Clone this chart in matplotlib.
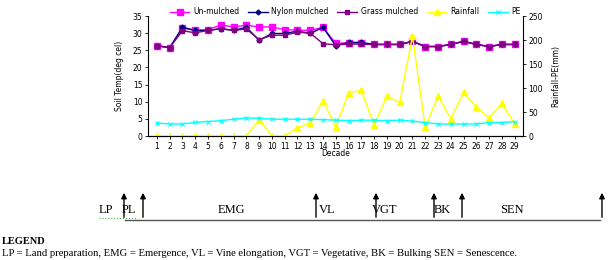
import matplotlib
matplotlib.use('Agg')
import matplotlib.pyplot as plt

# decades 1..29
decade = list(range(1, 30))

unmulched = [26.3, 25.8, 31.5, 30.8, 31.0, 32.4, 31.8, 32.3, 31.8, 31.8, 31.0, 30.9, 30.8, 31.7, 27.0,
             27.2, 27.1, 26.7, 26.7, 26.7, 27.6, 26.1, 26.1, 26.7, 27.6, 26.7, 26.1, 26.7, 26.7]
nylon = [26.3, 25.8, 31.7, 30.8, 30.8, 31.3, 30.8, 31.7, 27.9, 29.9, 29.9, 30.6, 29.9, 31.7, 26.3,
         27.3, 27.3, 26.7, 26.7, 26.7, 27.6, 26.1, 26.1, 26.7, 27.6, 26.7, 26.1, 26.7, 26.7]
grass = [26.3, 25.8, 30.7, 30.1, 30.8, 31.3, 30.8, 31.2, 28.1, 29.4, 29.4, 30.3, 30.0, 26.9, 26.6,
         26.8, 26.8, 26.7, 26.7, 26.7, 27.6, 26.1, 26.1, 26.7, 27.6, 26.7, 26.1, 26.7, 26.7]
rainfall = [0, 0, 0, 0, 0, 0, 0, 0, 34, 0, 0, 17, 27, 73, 18,
            90, 95, 23, 83, 70, 208, 18, 83, 36, 91, 60, 38, 68, 25]
pe = [27, 25, 25, 28.5, 30, 32, 35, 37.5, 37, 35, 35, 35, 35, 34, 33,
      32, 33, 33, 32, 33, 31, 28, 25, 25, 25, 25, 28, 28, 30]

# crop stages (pixel x of arrows on the time line below the chart)
stage_arrows = [124, 143, 316, 376, 434, 462, 602]
stage_labels = ["LP", "PL", "EMG", "VL", "VGT", "BK", "SEN"]
stage_label_x = [99, 122, 218, 319, 372, 434, 500]

fig = plt.figure(figsize=(6.11, 2.6), dpi=100)
ax = fig.add_axes([148/611, 1-136/260, (523-148)/611, 120/260])
ax2 = ax.twinx()

size = 5.5
l1, = ax.plot(decade, unmulched, color='#FF00FF', marker='s', markersize=4, linewidth=1, label='Un-mulched')
l2, = ax.plot(decade, nylon, color='#000080', marker='D', markersize=2.5, linewidth=1, label='Nylon mulched')
l3, = ax.plot(decade, grass, color='#800080', marker='s', markersize=2.5, linewidth=1, label='Grass mulched')
l4, = ax2.plot(decade, rainfall, color='#FFFF00', marker='^', markersize=4, linewidth=1, label='Rainfall')
l5, = ax2.plot(decade, pe, color='#00FFFF', marker='x', markersize=3, markeredgewidth=0.8, linewidth=1, label='PE')

ax.set_xlim(0.3, 29.65)
ax.set_ylim(0, 35)
ax2.set_ylim(0, 250)
ax.set_xticks(decade)
ax.set_yticks(range(0, 36, 5))
ax2.set_yticks(range(0, 251, 50))
for a in (ax, ax2):
    a.spines['top'].set_visible(False)
    a.tick_params(labelsize=size, length=2, width=0.6, pad=2)
ax.spines['right'].set_visible(False)
ax2.spines['left'].set_visible(False)
ax.set_ylabel("Soil Temp(deg cel)", fontsize=size, labelpad=6)
ax2.set_ylabel("Rainfall-PE(mm)", fontsize=size, labelpad=6)
ax.set_xlabel("Decade", fontsize=size, labelpad=-1)

fig.legend(handles=[l1, l2, l3, l4, l5], loc='center', bbox_to_anchor=(0.565, 0.955), ncol=5,
           frameon=False, prop={'size': size}, handlelength=2.6, columnspacing=1.1, handletextpad=0.5)

# lower part: crop stage time line and legend text
ov = fig.add_axes([0, 0, 1, 1])
ov.set_xlim(0, 611)
ov.set_ylim(260, 0)
ov.axis('off')
ov.plot([125, 600], [220, 220], color='#555555', linewidth=1)
for x in stage_arrows:
    ov.annotate("", xy=(x, 190), xytext=(x, 220),
                arrowprops=dict(arrowstyle='-|>', color='black', lw=1, mutation_scale=8))
for x, t in zip(stage_label_x, stage_labels):
    ov.text(x, 216, t, fontsize=9, family='Liberation Serif', va='bottom', ha='left')
ov.plot([99, 136], [218, 218], color='#4CAF50', linewidth=0.8, linestyle=':')

ov.text(2, 246, "LEGEND", fontsize=7.5, family='Liberation Serif', fontweight='bold', va='bottom')
ov.text(2, 258, "LP = Land preparation, EMG = Emergence, VL = Vine elongation, VGT = Vegetative, BK = Bulking SEN = Senescence.",
        fontsize=7.7, family='Liberation Serif', va='bottom')

plt.savefig("out.png", dpi=100)
